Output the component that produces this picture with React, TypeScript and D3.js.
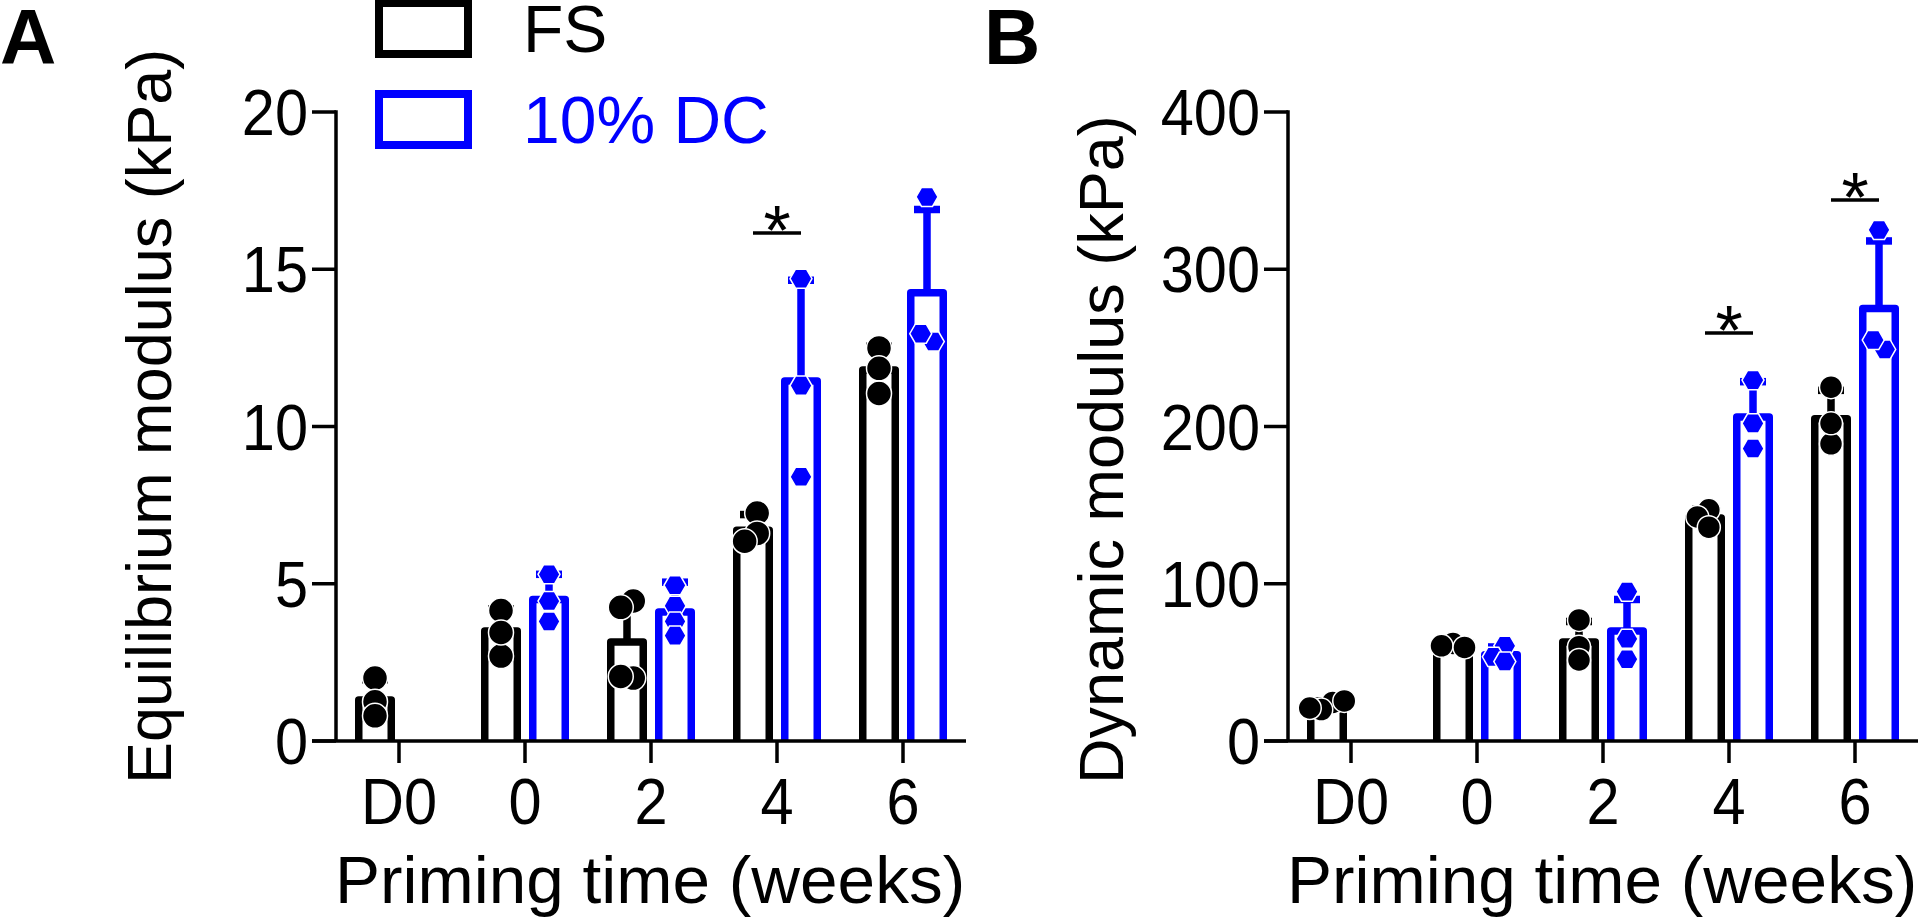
import * as d3 from 'd3'

const groups = ['D0', '0', '2', '4', '6']
const seriesNames = ['FS', '10% DC']
const seriesColors = ['#000000', '#0000ff']

// Panel A: equilibrium modulus (kPa)
const eqFsMean = [1.3, 3.5, 3.15, 6.7, 11.8]
const eqFsSd = [0.65, 0.7, 1.3, 0.5, 0.75]
const eqFsPoints = [
    [2.0, 1.25, 0.8],
    [4.15, 2.7, 3.45],
    [4.45, 4.25, 2.0, 2.05],
    [7.25, 6.6, 6.35],
    [12.5, 11.05, 11.85],
]
const eqDcMean = [null, 4.5, 4.1, 11.45, 14.25]
const eqDcSd = [null, 0.8, 0.95, 3.2, 2.65]
const eqDcPoints = [
    [],
    [5.3, 4.45, 3.8],
    [4.95, 4.3, 3.8, 3.35],
    [14.7, 11.3, 8.4],
    [17.3, 12.7, 12.95],
]
const eqSigGroups = ['4']
const eqSigLevels = [16.15]
const eqTicks = [0, 5, 10, 15, 20]

// Panel B: dynamic modulus (kPa)
const dynFsMean = [22.8, 60.7, 63, 141.8, 205]
const dynFsSd = [2.6, 1.3, 13, 5.5, 18]
const dynFsPoints = [
    [24.5, 20, 25.5, 21],
    [62, 60.5, 59.5],
    [77, 60, 51.5],
    [147, 142.5, 136],
    [225, 189, 202],
]
const dynDcMean = [null, 54.8, 70, 206, 275]
const dynDcSd = [null, 5, 20, 22.5, 43]
const dynDcPoints = [
    [],
    [60.5, 53.5, 50.5],
    [95, 65, 52],
    [229.5, 186, 202],
    [325, 249, 255],
]
const dynSigGroups = ['4', '6']
const dynSigLevels = [259.5, 344]
const dynTicks = [0, 100, 200, 300, 400]

const FONT = '"Liberation Sans", Arial, Helvetica, sans-serif'
const TOP = 112
const BOTTOM = 741
const AXIS_W = 3.5
const BAR_W = 32.5
const BAR_STROKE = 7.5
const TICK_FONT = 64
const TICK_SQUEEZE = 0.93

// spread overlapping points sideways, then centre each cluster
function swarm(ys: number[], d: number): number[] {
    const offs: number[] = []
    const cands = [0, -0.5, 0.5, -1, 1, -1.5, 1.5, -2, 2].map((k) => k * d)
    ys.forEach((yy) => {
        const pick =
            cands.find((c) =>
                offs.every((o, j) => Math.hypot(o - c, ys[j] - yy) >= d * 0.5)
            ) ?? 0
        offs.push(pick)
    })
    const seen = new Array(ys.length).fill(false)
    for (let i = 0; i < ys.length; i++) {
        if (seen[i]) continue
        const comp = [i]
        seen[i] = true
        for (let k = 0; k < comp.length; k++) {
            for (let j = 0; j < ys.length; j++) {
                if (!seen[j] && Math.hypot(offs[comp[k]] - offs[j], ys[comp[k]] - ys[j]) < d * 1.05) {
                    seen[j] = true
                    comp.push(j)
                }
            }
        }
        const m = d3.mean(comp, (c) => offs[c]) as number
        comp.forEach((c) => (offs[c] -= m))
    }
    return offs
}

function hexPath(cx: number, cy: number, r: number) {
    const pts: [number, number][] = d3
        .range(6)
        .map((k) => [cx + r * Math.cos((k * Math.PI) / 3), cy + r * Math.sin((k * Math.PI) / 3)])
    return (d3.line()(pts) as string) + 'Z'
}

interface PanelProps {
    letter: string
    letterX: number
    left: number
    yLabel: string
    yLabelX: number
    yMax: number
    ticks: number[]
    fsMean: (number | null)[]
    fsSd: (number | null)[]
    fsPts: number[][]
    dcMean: (number | null)[]
    dcSd: (number | null)[]
    dcPts: number[][]
    sigGroups: string[]
    sigLevels: number[]
    dotR: number
}

function Panel(p: PanelProps) {
    const x = d3.scaleBand().domain(groups).range([p.left, p.left + 630])
    const x1 = d3.scaleBand().domain(seriesNames).range([-48, 48])
    const y = d3.scaleLinear().domain([0, p.yMax]).range([BOTTOM, TOP])
    const cxOf = (g: string, s: string) =>
        (x(g) as number) + x.bandwidth() / 2 + (x1(s) as number) + x1.bandwidth() / 2

    const sets = [
        { s: seriesNames[0], color: seriesColors[0], mean: p.fsMean, sd: p.fsSd, pts: p.fsPts, hex: false },
        { s: seriesNames[1], color: seriesColors[1], mean: p.dcMean, sd: p.dcSd, pts: p.dcPts, hex: true },
    ]

    return (
        <g>
            <text x={p.letterX} y={64} fontSize={78} fontWeight="bold" fontFamily={FONT}>
                {p.letter}
            </text>
            {/* bars and error bars */}
            {sets.map((set) =>
                groups.map((g, i) => {
                    const m = set.mean[i]
                    if (m == null) return null
                    const cx = cxOf(g, set.s)
                    const top = y(m + (set.sd[i] ?? 0))
                    return (
                        <g key={set.s + g}>
                            <path
                                d={`M${cx - BAR_W / 2},${y(0)}V${y(m)}H${cx + BAR_W / 2}V${y(0)}`}
                                fill="#fff"
                                stroke={set.color}
                                strokeWidth={BAR_STROKE}
                                strokeLinejoin="round"
                            />
                            <line x1={cx} x2={cx} y1={y(m)} y2={top} stroke={set.color} strokeWidth={BAR_STROKE} />
                            <line x1={cx - 13} x2={cx + 13} y1={top} y2={top} stroke={set.color} strokeWidth={BAR_STROKE} />
                        </g>
                    )
                })
            )}
            {/* axes */}
            <line x1={p.left} x2={p.left} y1={TOP - AXIS_W / 2} y2={BOTTOM} stroke="#000" strokeWidth={AXIS_W} />
            <line x1={p.left - 24} x2={p.left + 630} y1={BOTTOM} y2={BOTTOM} stroke="#000" strokeWidth={AXIS_W} />
            {p.ticks.map((t) => (
                <g key={t}>
                    <line x1={p.left - 24} x2={p.left} y1={y(t)} y2={y(t)} stroke="#000" strokeWidth={AXIS_W} />
                    <text
                        transform={`translate(${p.left - 28},${y(t) + 23}) scale(${TICK_SQUEEZE},1)`}
                        textAnchor="end"
                        fontSize={TICK_FONT}
                        fontFamily={FONT}
                    >
                        {t}
                    </text>
                </g>
            ))}
            {groups.map((g) => {
                const cx = (x(g) as number) + x.bandwidth() / 2
                return (
                    <g key={g}>
                        <line x1={cx} x2={cx} y1={BOTTOM} y2={BOTTOM + 22} stroke="#000" strokeWidth={AXIS_W} />
                        <text
                            transform={`translate(${cx},824) scale(${TICK_SQUEEZE},1)`}
                            textAnchor="middle"
                            fontSize={TICK_FONT}
                            fontFamily={FONT}
                        >
                            {g}
                        </text>
                    </g>
                )
            })}
            <text x={p.left - 1} y={903} fontSize={67.5} fontFamily={FONT}>
                Priming time (weeks)
            </text>
            <text
                transform={`translate(${p.yLabelX},784) rotate(-90)`}
                fontSize={63}
                fontFamily={FONT}
            >
                {p.yLabel}
            </text>
            {/* individual points */}
            {sets.map((set) =>
                groups.map((g, i) => {
                    const cx = cxOf(g, set.s)
                    const ys = set.pts[i].map((v) => y(v))
                    const offs = swarm(ys, p.dotR * 2)
                    return ys.map((yy, k) =>
                        set.hex ? (
                            <path
                                key={set.s + g + k}
                                d={hexPath(cx + offs[k], yy, 11)}
                                fill={set.color}
                                stroke="#fff"
                                strokeWidth={1.5}
                            />
                        ) : (
                            <circle
                                key={set.s + g + k}
                                cx={cx + offs[k]}
                                cy={yy}
                                r={p.dotR}
                                fill={set.color}
                                stroke="#fff"
                                strokeWidth={1.5}
                            />
                        )
                    )
                })
            )}
            {/* significance */}
            {p.sigGroups.map((g, i) => {
                const a = cxOf(g, seriesNames[0])
                const b = cxOf(g, seriesNames[1])
                const ly = y(p.sigLevels[i])
                return (
                    <g key={'sig' + g}>
                        <line x1={a} x2={b} y1={ly} y2={ly} stroke="#000" strokeWidth={AXIS_W} />
                        <text x={(a + b) / 2} y={ly + 22} textAnchor="middle" fontSize={70} fontFamily={FONT}>
                            *
                        </text>
                    </g>
                )
            })}
        </g>
    )
}

function Legend() {
    const ly = d3.scaleBand().domain(seriesNames).range([-1, 181]).paddingInner(0)
    return (
        <g>
            {seriesNames.map((s, i) => {
                const top = (ly(s) as number) + 4
                return (
                    <g key={s}>
                        <rect
                            x={379}
                            y={top}
                            width={89}
                            height={51}
                            fill="#fff"
                            stroke={seriesColors[i]}
                            strokeWidth={8}
                        />
                        <text x={523} y={top + 49} fontSize={66} fontFamily={FONT} fill={seriesColors[i]}>
                            {s}
                        </text>
                    </g>
                )
            })}
        </g>
    )
}

export default function App() {
    return (
        <svg
            width={1920}
            height={918}
            viewBox="0 0 1920 918"
            style={{ position: 'absolute', left: 0, top: 0, background: '#fff' }}
        >
            <rect width={1920} height={918} fill="#fff" />
            <Panel
                letter="A"
                letterX={0}
                left={336}
                yLabel="Equilibrium modulus (kPa)"
                yLabelX={171}
                yMax={20}
                ticks={eqTicks}
                fsMean={eqFsMean}
                fsSd={eqFsSd}
                fsPts={eqFsPoints}
                dcMean={eqDcMean}
                dcSd={eqDcSd}
                dcPts={eqDcPoints}
                sigGroups={eqSigGroups}
                sigLevels={eqSigLevels}
                dotR={12.5}
            />
            <Panel
                letter="B"
                letterX={984}
                left={1288}
                yLabel="Dynamic modulus (kPa)"
                yLabelX={1123}
                yMax={400}
                ticks={dynTicks}
                fsMean={dynFsMean}
                fsSd={dynFsSd}
                fsPts={dynFsPoints}
                dcMean={dynDcMean}
                dcSd={dynDcSd}
                dcPts={dynDcPoints}
                sigGroups={dynSigGroups}
                sigLevels={dynSigLevels}
                dotR={11.5}
            />
            <Legend />
        </svg>
    )
}
